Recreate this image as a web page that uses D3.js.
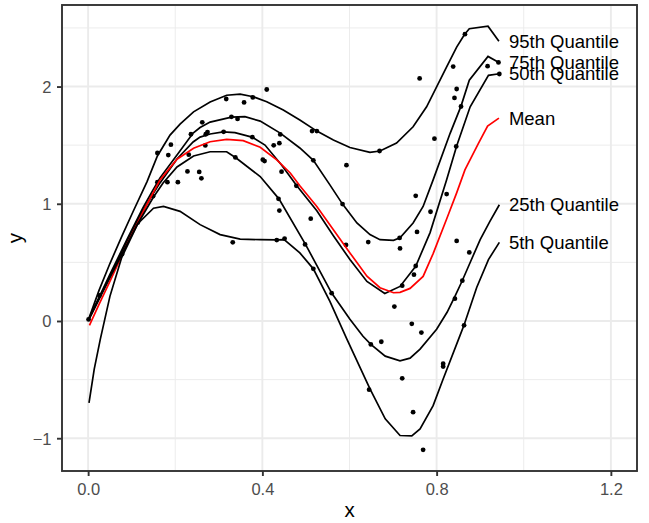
<!DOCTYPE html>
<html>
<head>
<meta charset="utf-8">
<script src="https://cdn.jsdelivr.net/npm/d3@7"></script>
<style>
  body { margin: 0; background: #fff; }
  text { font-family: "Liberation Sans", Arial, sans-serif; }
</style>
</head>
<body>
<script>
var width = 649, height = 523;
var margin = {top: 5, right: 12, bottom: 52, left: 62};

// observed points (x, y)
var points = [[0.001,0.013],[0.026,0.218],[0.078,0.571],[0.114,0.840],[0.149,1.065],[0.159,1.433],[0.159,1.184],[0.182,1.184],[0.184,1.415],[0.190,1.504],[0.206,1.184],[0.228,1.276],[0.231,1.419],[0.236,1.593],[0.255,1.272],[0.260,1.217],[0.262,1.695],[0.269,1.498],[0.270,1.593],[0.274,1.612],[0.311,1.614],[0.317,1.894],[0.329,1.742],[0.332,0.671],[0.338,1.395],[0.343,1.724],[0.358,1.865],[0.377,1.568],[0.378,1.907],[0.401,1.376],[0.405,1.364],[0.410,1.975],[0.426,1.499],[0.433,0.690],[0.437,1.042],[0.439,0.942],[0.439,1.517],[0.441,1.592],[0.444,1.274],[0.451,0.703],[0.478,1.153],[0.511,0.873],[0.514,1.620],[0.525,1.620],[0.517,1.371],[0.584,0.997],[0.593,1.329],[0.498,0.653],[0.592,0.649],[0.643,0.673],[0.669,1.450],[0.715,0.709],[0.716,0.619],[0.752,1.068],[0.755,0.760],[0.761,2.069],[0.786,0.932],[0.795,1.555],[0.823,1.083],[0.838,2.170],[0.845,1.489],[0.846,1.979],[0.841,1.903],[0.856,1.830],[0.846,0.683],[0.865,2.447],[0.917,2.174],[0.942,2.206],[0.944,2.107],[0.517,0.445],[0.559,0.237],[0.703,0.123],[0.721,0.301],[0.748,0.395],[0.752,0.469],[0.743,-0.024],[0.765,-0.099],[0.673,-0.177],[0.649,-0.200],[0.721,-0.489],[0.645,-0.586],[0.746,-0.778],[0.769,-1.099],[0.815,-0.364],[0.815,-0.389],[0.842,0.190],[0.859,0.344],[0.863,-0.037],[0.875,0.585]];

// fitted curves
var q95 = [[0.001,0.014],[0.025,0.261],[0.050,0.490],[0.077,0.720],[0.103,0.932],[0.135,1.187],[0.159,1.408],[0.188,1.586],[0.211,1.680],[0.242,1.784],[0.280,1.869],[0.318,1.926],[0.349,1.935],[0.379,1.913],[0.410,1.871],[0.448,1.799],[0.486,1.714],[0.525,1.620],[0.563,1.544],[0.601,1.480],[0.647,1.438],[0.670,1.450],[0.708,1.518],[0.746,1.657],[0.777,1.827],[0.800,1.997],[0.823,2.167],[0.846,2.336],[0.864,2.444],[0.875,2.493],[0.918,2.515],[0.943,2.387]];
var q75 = [[0.001,0.014],[0.025,0.201],[0.050,0.397],[0.089,0.694],[0.126,0.966],[0.149,1.119],[0.165,1.221],[0.204,1.416],[0.241,1.603],[0.257,1.650],[0.280,1.697],[0.329,1.739],[0.360,1.743],[0.395,1.705],[0.441,1.603],[0.486,1.476],[0.517,1.371],[0.555,1.161],[0.584,0.997],[0.617,0.836],[0.647,0.737],[0.670,0.694],[0.701,0.688],[0.716,0.709],[0.746,0.836],[0.769,0.977],[0.792,1.204],[0.831,1.601],[0.856,1.833],[0.875,2.054],[0.918,2.257],[0.943,2.206]];
var q50 = [[0.001,0.014],[0.025,0.193],[0.050,0.380],[0.089,0.677],[0.126,0.941],[0.149,1.085],[0.165,1.178],[0.204,1.382],[0.241,1.527],[0.257,1.569],[0.280,1.595],[0.310,1.614],[0.337,1.607],[0.376,1.569],[0.406,1.501],[0.444,1.331],[0.479,1.153],[0.525,0.941],[0.563,0.728],[0.601,0.524],[0.640,0.337],[0.681,0.235],[0.716,0.295],[0.752,0.467],[0.785,0.754],[0.823,1.204],[0.846,1.493],[0.877,1.827],[0.919,2.096],[0.944,2.109]];
var meanFit = [[0.003,-0.037],[0.025,0.142],[0.050,0.337],[0.089,0.652],[0.131,0.966],[0.165,1.204],[0.184,1.289],[0.204,1.380],[0.242,1.473],[0.280,1.529],[0.318,1.550],[0.356,1.538],[0.395,1.482],[0.433,1.374],[0.464,1.263],[0.486,1.153],[0.525,0.977],[0.563,0.779],[0.601,0.581],[0.640,0.382],[0.670,0.284],[0.701,0.241],[0.716,0.244],[0.739,0.278],[0.769,0.380],[0.792,0.575],[0.823,0.870],[0.846,1.093],[0.865,1.289],[0.896,1.516],[0.917,1.663],[0.943,1.731]];
var q25 = [[0.001,0.006],[0.025,0.184],[0.050,0.371],[0.089,0.652],[0.114,0.830],[0.149,1.051],[0.172,1.178],[0.204,1.314],[0.242,1.408],[0.280,1.444],[0.318,1.444],[0.339,1.393],[0.395,1.232],[0.438,1.042],[0.499,0.654],[0.559,0.238],[0.601,0.014],[0.631,-0.130],[0.649,-0.200],[0.682,-0.300],[0.716,-0.340],[0.739,-0.317],[0.762,-0.240],[0.800,-0.071],[0.824,0.074],[0.842,0.210],[0.858,0.337],[0.877,0.499],[0.900,0.694],[0.922,0.847],[0.944,0.992]];
var q05 = [[0.002,-0.699],[0.014,-0.410],[0.028,-0.155],[0.050,0.210],[0.077,0.541],[0.114,0.830],[0.150,0.962],[0.173,0.977],[0.211,0.935],[0.257,0.822],[0.303,0.737],[0.349,0.698],[0.395,0.694],[0.433,0.692],[0.450,0.694],[0.486,0.581],[0.517,0.445],[0.555,0.167],[0.594,-0.155],[0.647,-0.580],[0.682,-0.835],[0.716,-0.977],[0.743,-0.980],[0.762,-0.920],[0.792,-0.722],[0.815,-0.495],[0.854,-0.121],[0.863,-0.034],[0.892,0.286],[0.919,0.524],[0.944,0.671]];

var curves = [q95, q75, q50, meanFit, q25, q05];
var curveLabels = ["95th Quantile", "75th Quantile", "50th Quantile", "Mean", "25th Quantile", "5th Quantile"];
var curveColors = ["black", "black", "black", "red", "black", "black"];
var labelX = 0.966;

var xLimits = [0, 1.2];
var xTicks = [0, 0.4, 0.8, 1.2];
var xMinor = [0.2, 0.6, 1.0];
var yTicks = [-1, 0, 1, 2];
var yMinor = [-0.5, 0.5, 1.5, 2.5];

//// scales ////
var xPad = (xLimits[1] - xLimits[0]) * 0.05;
var allY = points.map(function(p){ return p[1]; });
curves.forEach(function(c){ c.forEach(function(p){ allY.push(p[1]); }); });
var yExt = d3.extent(allY);
var yPad = (yExt[1] - yExt[0]) * 0.05;

var x = d3.scaleLinear().domain([xLimits[0] - xPad, xLimits[1] + xPad]).range([margin.left, width - margin.right]);
var y = d3.scaleLinear().domain([yExt[0] - yPad, yExt[1] + yPad]).range([height - margin.bottom, margin.top]);

var svg = d3.select("body").append("svg").attr("width", width).attr("height", height);

svg.append("rect").attr("width", width).attr("height", height).attr("fill", "white");

var pw = width - margin.left - margin.right, ph = height - margin.top - margin.bottom;

//// grid ////
var grid = svg.append("g");
grid.selectAll("line.xminor").data(xMinor).enter().append("line")
  .attr("x1", function(d){ return x(d); }).attr("x2", function(d){ return x(d); })
  .attr("y1", margin.top).attr("y2", margin.top + ph)
  .attr("stroke", "#EBEBEB").attr("stroke-width", 0.95);
grid.selectAll("line.yminor").data(yMinor).enter().append("line")
  .attr("y1", function(d){ return y(d); }).attr("y2", function(d){ return y(d); })
  .attr("x1", margin.left).attr("x2", margin.left + pw)
  .attr("stroke", "#EBEBEB").attr("stroke-width", 0.95);
grid.selectAll("line.xmajor").data(xTicks).enter().append("line")
  .attr("x1", function(d){ return x(d); }).attr("x2", function(d){ return x(d); })
  .attr("y1", margin.top).attr("y2", margin.top + ph)
  .attr("stroke", "#EBEBEB").attr("stroke-width", 1.9);
grid.selectAll("line.ymajor").data(yTicks).enter().append("line")
  .attr("y1", function(d){ return y(d); }).attr("y2", function(d){ return y(d); })
  .attr("x1", margin.left).attr("x2", margin.left + pw)
  .attr("stroke", "#EBEBEB").attr("stroke-width", 1.9);

//// points ////
svg.append("g").selectAll("circle").data(points).enter().append("circle")
  .attr("cx", function(d){ return x(d[0]); })
  .attr("cy", function(d){ return y(d[1]); })
  .attr("r", 2.4).attr("fill", "black");

//// curves ////
var line = d3.line().x(function(d){ return x(d[0]); }).y(function(d){ return y(d[1]); });
svg.append("g").selectAll("path").data(curves).enter().append("path")
  .attr("d", line)
  .attr("fill", "none")
  .attr("stroke", function(d, i){ return curveColors[i]; })
  .attr("stroke-width", 1.7);

svg.append("g").selectAll("text").data(curves).enter().append("text")
  .attr("x", x(labelX))
  .attr("y", function(d){ return y(d[d.length - 1][1]); })
  .attr("dy", "0.35em")
  .attr("font-size", "18.5px")
  .attr("fill", "black")
  .text(function(d, i){ return curveLabels[i]; });

//// border + axes ////
svg.append("rect").attr("x", margin.left).attr("y", margin.top).attr("width", pw).attr("height", ph)
  .attr("fill", "none").attr("stroke", "#333333").attr("stroke-width", 1.9);

var xAxis = d3.axisBottom(x).tickValues(xTicks).tickSize(5).tickFormat(d3.format(".1f"));
var gx = svg.append("g").attr("transform", "translate(0," + (margin.top + ph) + ")").call(xAxis);
gx.select(".domain").remove();
gx.selectAll(".tick line").attr("stroke", "#333333").attr("stroke-width", 1.9);
gx.selectAll(".tick text").attr("fill", "#4D4D4D").attr("font-size", "16.5px")
  .attr("font-family", "Liberation Sans, Arial, sans-serif").attr("dy", 0).attr("y", 23.5);

var yAxis = d3.axisLeft(y).tickValues(yTicks).tickSize(5).tickFormat(function(d){ return d < 0 ? "\u2212" + Math.abs(d) : d; });
var gy = svg.append("g").attr("transform", "translate(" + margin.left + ",0)").call(yAxis);
gy.select(".domain").remove();
gy.selectAll(".tick line").attr("stroke", "#333333").attr("stroke-width", 1.9);
gy.selectAll(".tick text").attr("fill", "#4D4D4D").attr("font-size", "16.5px")
  .attr("font-family", "Liberation Sans, Arial, sans-serif").attr("x", -10.5).attr("dy", "0.36em");

svg.append("text").attr("x", margin.left + pw / 2).attr("y", 516.5)
  .attr("text-anchor", "middle").attr("font-size", "20.5px").text("x");
svg.append("text").attr("transform", "translate(22.4," + (margin.top + ph / 2) + ") rotate(-90)")
  .attr("text-anchor", "middle").attr("font-size", "20.5px").text("y");
</script>
</body>
</html>
